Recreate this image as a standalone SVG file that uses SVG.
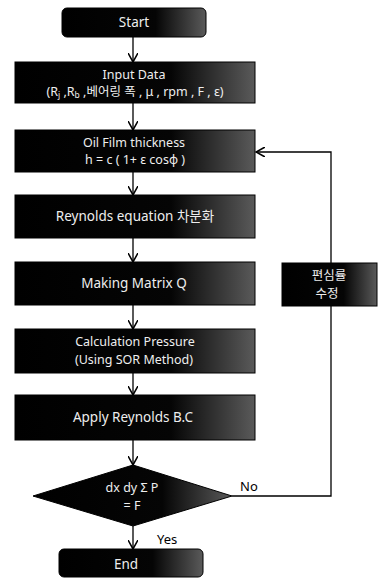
<svg xmlns="http://www.w3.org/2000/svg" width="378" height="578" viewBox="0 0 378 578">
<defs>
<linearGradient id="g" x1="0" y1="0" x2="1" y2="0">
<stop offset="0" stop-color="#000"/>
<stop offset="0.65" stop-color="#050505"/>
<stop offset="1" stop-color="#5a5a5a"/>
</linearGradient>
<marker id="ah" viewBox="0 0 10 10" refX="9" refY="5" markerWidth="8" markerHeight="8" orient="auto">
<path d="M0,0 L9,5 L0,10" fill="none" stroke="#000" stroke-width="1.5"/>
</marker>
<style>
.box{fill:url(#g);stroke:#000;stroke-width:1}
.t{fill:#eee;font-family:"Noto Sans","Noto Sans CJK KR",sans-serif;font-size:13.5px;text-anchor:middle}
.s{font-size:12.5px}
.l{fill:#000;font-family:"Noto Sans","Noto Sans CJK KR",sans-serif;font-size:13px}
.c{fill:none;stroke:#000;stroke-width:1.3}
</style>
</defs>
<rect width="378" height="578" fill="#fff"/>
<g id="connectors">
<line class="c" x1="133" y1="37" x2="133" y2="62" marker-end="url(#ah)"/>
<line class="c" x1="133" y1="103" x2="133" y2="130" marker-end="url(#ah)"/>
<line class="c" x1="133" y1="172" x2="133" y2="195" marker-end="url(#ah)"/>
<line class="c" x1="133" y1="238" x2="133" y2="262" marker-end="url(#ah)"/>
<line class="c" x1="133" y1="305" x2="133" y2="329" marker-end="url(#ah)"/>
<line class="c" x1="133" y1="373" x2="133" y2="395" marker-end="url(#ah)"/>
<line class="c" x1="133" y1="440" x2="133" y2="465" marker-end="url(#ah)"/>
<line class="c" x1="133" y1="526" x2="133" y2="549" marker-end="url(#ah)"/>
<polyline class="c" points="232,496 331,496 331,306"/>
<polyline class="c" points="331,263 331,152 256,152" marker-end="url(#ah)"/>
<text class="l" x="240" y="491">No</text>
<text class="l" x="157" y="544">Yes</text>
</g>
<g id="start">
<rect class="box" x="62" y="8" width="144" height="29" rx="5"/>
<text class="t" x="134" y="27">Start</text>
</g>
<g id="input">
<rect class="box" x="15" y="62" width="240" height="41"/>
<text class="t s" x="134" y="79">Input Data</text>
<text class="t s" x="135" y="96">(R<tspan font-size="8.5" dy="2">j</tspan><tspan dy="-2"> ,R</tspan><tspan font-size="8.5" dy="2">b</tspan><tspan dy="-2"> ,베어링 폭 , μ , rpm , F , ε)</tspan></text>
</g>
<g id="oilfilm">
<rect class="box" x="15" y="130" width="240" height="42"/>
<text class="t s" x="134" y="147">Oil Film thickness</text>
<text class="t s" x="135" y="164">h = c ( 1+ ε cosϕ )</text>
</g>
<g id="reynolds">
<rect class="box" x="15" y="195" width="240" height="43"/>
<text class="t" x="135" y="221">Reynolds equation 차분화</text>
</g>
<g id="matrix">
<rect class="box" x="15" y="262" width="240" height="43"/>
<text class="t" x="134" y="288">Making Matrix Q</text>
</g>
<g id="pressure">
<rect class="box" x="15" y="329" width="240" height="44"/>
<text class="t s" x="135" y="346">Calculation Pressure</text>
<text class="t s" x="134" y="364">(Using SOR Method)</text>
</g>
<g id="apply">
<rect class="box" x="15" y="395" width="240" height="45"/>
<text class="t" x="133" y="422">Apply Reynolds B.C</text>
</g>
<g id="decision">
<polygon class="box" points="133,465 232,496 133,526 33,496"/>
<text class="t s" x="132" y="492">dx dy Σ P</text>
<text class="t s" x="132" y="510">= F</text>
</g>
<g id="end">
<rect class="box" x="59" y="549" width="144" height="28" rx="5"/>
<text class="t" x="126" y="569">End</text>
</g>
<g id="modify">
<rect class="box" x="282" y="263" width="95" height="43"/>
<text class="t s" x="329" y="280">편심률</text>
<text class="t s" x="327" y="298">수정</text>
</g>
</svg>
